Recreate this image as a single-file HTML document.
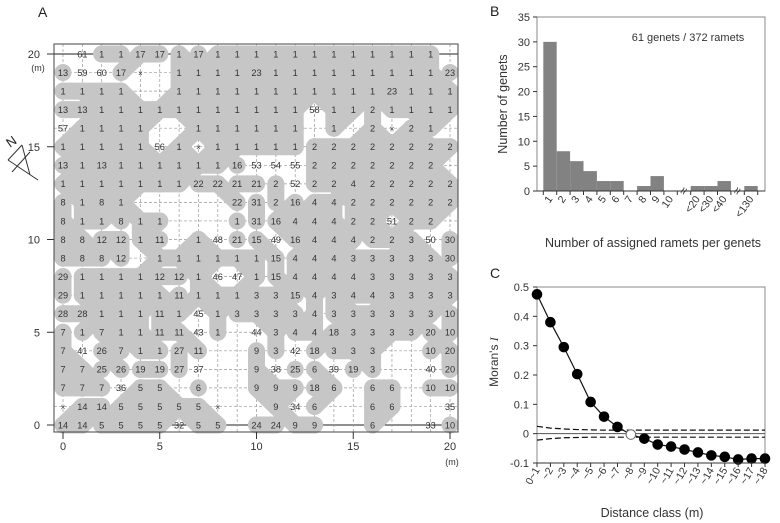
<!DOCTYPE html>
<html><head><meta charset="utf-8"><style>
body{margin:0;background:#fff;}
svg{display:block;font-family:"Liberation Sans",sans-serif;}
</style></head><body>
<svg id="fig" width="780" height="523" viewBox="0 0 780 523">
<g id="panelA"></g>
<g id="panelB"></g>
<g id="panelC"></g>
</svg>
<script>
// ---------- Panel A data ----------
const mapRows = [
",61,1,1,17,17,1,17,1,1,1,1,1,1,1,1,1,1,1,1,",
"13,59,60,17,x,,1,1,1,1,23,1,1,1,1,1,1,1,1,1,23",
"1,1,1,1,,,1,1,1,1,1,1,1,1,1,1,1,23,1,1,1",
"13,13,1,1,1,1,1,1,1,1,1,1,1,58,1,1,2,1,1,1,1",
"57,1,1,1,1,,,1,1,1,1,1,1,,1,,2,x,2,1,",
"1,1,1,1,1,56,1,x,1,1,1,1,1,2,2,2,2,2,2,2,2",
"13,1,13,1,1,1,1,1,1,16,53,54,55,2,2,2,2,2,2,2,",
"1,1,1,1,1,1,1,22,22,21,21,2,52,2,2,4,2,2,2,2,2",
"8,1,8,1,,,,,,22,31,2,16,4,4,2,2,2,2,2,2",
"8,1,1,8,1,1,,,,1,31,16,4,4,4,2,2,51,2,2,",
"8,8,12,12,1,11,,1,48,21,15,49,16,4,4,4,2,2,3,50,30",
"8,8,8,12,,1,1,1,1,1,1,15,4,4,4,3,3,3,3,3,30",
"29,1,1,1,1,12,12,1,46,47,1,15,4,4,4,4,3,3,3,3,3",
"29,1,1,1,1,1,11,1,1,1,3,3,15,4,3,4,4,3,3,3,3",
"28,28,1,1,1,11,1,45,1,3,3,3,3,4,3,3,3,3,3,3,10",
"7,1,7,1,1,11,11,43,1,,44,3,4,4,18,3,3,3,3,20,10",
"7,41,26,7,1,1,27,11,,,9,3,42,18,3,3,3,,,10,20",
"7,7,25,26,19,19,27,37,,,9,38,25,6,39,19,3,,,40,20",
"7,7,7,36,5,5,,6,,,9,9,9,18,6,,6,6,,10,10",
"x,14,14,5,5,5,5,5,x,,,9,34,6,,,6,6,,,35",
"14,14,5,5,5,5,32,5,5,,24,24,9,9,,,6,,,33,10"
];
const axisTicksA = [0,5,10,15,20];

// ---------- Panel B data ----------
const histCats = ["1","2","3","4","5","6","7","8","9","10","<20","<30","<40","<130"];
const histSlots = [0,1,2,3,4,5,6,7,8,9,11,12,13,15];
const histVals = [30,8,6,4,2,2,0,1,3,0,1,1,2,1];
const histYTicks = [0,5,10,15,20,25,30,35];

// ---------- Panel C data ----------
const distCats = ["0~1","~2","~3","~4","~5","~6","~7","~8","~9","~10","~11","~12","~13","~14","~15","~16","~17","~18"];
const moranVals = [0.475,0.38,0.295,0.203,0.108,0.058,0.023,-0.003,-0.017,-0.037,-0.044,-0.054,-0.064,-0.074,-0.079,-0.088,-0.085,-0.085];
const moranSig = [1,1,1,1,1,1,1,0,1,1,1,1,1,1,1,1,1,1];
const envUpper = [0.025,0.019,0.016,0.014,0.013,0.012,0.012,0.012,0.012,0.012,0.012,0.012,0.012,0.012,0.012,0.012,0.012,0.012];
const envLower = [-0.022,-0.017,-0.014,-0.013,-0.012,-0.012,-0.012,-0.012,-0.012,-0.012,-0.012,-0.012,-0.012,-0.012,-0.012,-0.012,-0.012,-0.012];
const moranYTicks = [0.5,0.4,0.3,0.2,0.1,0,-0.1];

const NS="http://www.w3.org/2000/svg";
function mk(parent,tag,attrs,text){const e=document.createElementNS(NS,tag);for(const k in attrs)e.setAttribute(k,attrs[k]);if(text!==undefined)e.textContent=text;parent.appendChild(e);return e;}

// ===== Panel A =====
(function(){
const g=document.getElementById('panelA');
const X=v=>63+v*19.35, Y=v=>425-v*18.55;
let t=mk(g,'text',{x:38,y:17,'font-size':14,fill:'#222'},'A');


// grid
for(let i=0;i<=20;i++){
  let l=mk(g,'line',{x1:X(i),x2:X(i),y1:44,y2:432,stroke:'#999','stroke-width':0.7,'stroke-dasharray':'3,2'});
  
  
  let s=(i===0||i===20);
  let h=mk(g,'line',{x1:54,x2:458,y1:Y(i),y2:Y(i),stroke:s?'#222':'#999','stroke-width':s?1:0.7,'stroke-dasharray':s?'none':'3,2'});
  
  
}
const grid=mapRows.map(r=>r.split(','));
const counts={};
grid.forEach(r=>r.forEach(c=>{if(c&&c!=='x')counts[c]=(counts[c]||0)+1;}));
const blob=mk(g,'g',{stroke:'#c6c6c6','stroke-width':17,'stroke-linecap':'round',fill:'#c6c6c6'});


const get=(col,yv)=>{if(col<0||col>20||yv<0||yv>20)return '';return grid[20-yv][col]||'';};
for(let yv=0;yv<=20;yv++)for(let c=0;c<=20;c++){
  const v=get(c,yv); if(!v||v==='x')continue;
  if(counts[v]>1){let ci=mk(blob,'circle',{cx:X(c),cy:Y(yv),r:8.5,stroke:'none'});
    
    }
  [[1,0],[0,1],[1,1],[1,-1]].forEach(([dx,dy])=>{
    if(get(c+dx,yv+dy)===v){let l=mk(blob,'line',{x1:X(c),y1:Y(yv),x2:X(c+dx),y2:Y(yv+dy)});
      
      }
  });
}
for(let yv=0;yv<=20;yv++)for(let c=0;c<=20;c++){
  const v=get(c,yv); if(!v)continue;
  let tx=mk(g,'text',{x:X(c),y:Y(yv)+3.3,'font-size':v==='x'?8:9.2,'text-anchor':'middle',fill:'#333'},v==='x'?'×':v);
  
  
}
let fr=mk(g,'rect',{x:54,y:44,width:404,height:388,fill:'none',stroke:'#444','stroke-width':1});


axisTicksA.forEach(v=>{
  let a=mk(g,'line',{x1:X(v),x2:X(v),y1:432,y2:439,stroke:'#333'});
  
  
  let b=mk(g,'text',{x:X(v),y:450,'font-size':11,'text-anchor':'middle',fill:'#333'},String(v));
  
  
  let c=mk(g,'line',{x1:47,x2:54,y1:Y(v),y2:Y(v),stroke:'#333'});
  
  
  let d=mk(g,'text',{x:40,y:Y(v)+4,'font-size':11,'text-anchor':'end',fill:'#333'},String(v));
  
  
});
let m1=mk(g,'text',{x:38,y:71,'font-size':9,'text-anchor':'middle',fill:'#333'},'(m)');


let m2=mk(g,'text',{x:452,y:465,'font-size':9,'text-anchor':'middle',fill:'#333'},'(m)');


// north arrow
const na=mk(g,'g',{stroke:'#333','stroke-width':1,fill:'none'});


mk(na,'line',{x1:8,y1:160,x2:38,y2:180});
mk(na,'line',{x1:8,y1:160,x2:22,y2:145});
mk(na,'line',{x1:22,y1:145,x2:30,y2:175});
mk(na,'line',{x1:12,y1:172,x2:30,y2:152});
let nt=mk(g,'text',{x:10,y:148,'font-size':13,fill:'#222',transform:'rotate(-35 10 148)'},'N');


})();

// ===== Panel B =====
(function(){
const g=document.getElementById('panelB');
const L=537,R=765,T=17,B=191;
const Y=v=>B-(v/35)*(B-T);
const SX=i=>550+i*13.4;
const bw=13.4;
let t=mk(g,'text',{x:490,y:16,'font-size':14,fill:'#222'},'B');


histVals.forEach((v,i)=>{
  const x=SX(histSlots[i]);
  if(v>0){let r=mk(g,'rect',{x:x-bw/2,y:Y(v),width:bw,height:B-Y(v),fill:'#828282'});
  
  }
  let lb=mk(g,'text',{x:x+3,y:199,'font-size':10.5,'text-anchor':'end',fill:'#333',transform:`rotate(-55 ${x+3} 199)`},histCats[i]);
  
  
});
let fr=mk(g,'rect',{x:L,y:T,width:R-L,height:B-T,fill:'none',stroke:'#888'});


let ax=mk(g,'line',{x1:L,x2:R,y1:B,y2:B,stroke:'#333'});


for(let i=0;i<=16;i++){const x=SX(i)-bw/2;
  let tk=mk(g,'line',{x1:x,x2:x,y1:B,y2:B+4,stroke:'#333'});
  
  }
[10,14].forEach(s=>{const x=SX(s);
  let br=mk(g,'text',{x:x,y:B+4,'font-size':13,'text-anchor':'middle',fill:'#333'},'≈');
  
  
  br.setAttribute('transform',`rotate(-60 ${x} ${B})`);});
histYTicks.forEach(v=>{
  let tk=mk(g,'line',{x1:L-4,x2:L,y1:Y(v),y2:Y(v),stroke:'#333'});
  
  
  let lb=mk(g,'text',{x:L-7,y:Y(v)+4,'font-size':11,'text-anchor':'end',fill:'#333'},String(v));
  
  
});
let an=mk(g,'text',{x:688,y:41,'font-size':11,'text-anchor':'middle',fill:'#333'},'61 genets / 372 ramets');


let yt=mk(g,'text',{x:507,y:104,'font-size':12.5,'text-anchor':'middle',fill:'#333',transform:'rotate(-90 507 104)'},'Number of genets');


let xt=mk(g,'text',{x:653,y:247,'font-size':12.5,'text-anchor':'middle',fill:'#333'},'Number of assigned ramets per genets');


})();

// ===== Panel C =====
(function(){
const g=document.getElementById('panelC');
const L=537,R=765,T=287,B=463;
const Y=v=>B-(v+0.1)/0.6*(B-T);
const X=i=>L+i*(R-L)/(distCats.length-1);
let t=mk(g,'text',{x:490,y:278,'font-size':14,fill:'#222'},'C');


let fr=mk(g,'rect',{x:L,y:T,width:R-L,height:B-T,fill:'none',stroke:'#888'});


let zl=mk(g,'line',{x1:L,x2:R,y1:Y(0),y2:Y(0),stroke:'#555'});


const pu=envUpper.map((v,i)=>X(i)+','+Y(v)).join(' ');
const pl=envLower.map((v,i)=>X(i)+','+Y(v)).join(' ');
let eu=mk(g,'polyline',{points:pu,fill:'none',stroke:'#111','stroke-width':1.2,'stroke-dasharray':'6,3'});


let el=mk(g,'polyline',{points:pl,fill:'none',stroke:'#111','stroke-width':1.2,'stroke-dasharray':'6,3'});


let ln=mk(g,'polyline',{points:moranVals.map((v,i)=>X(i)+','+Y(v)).join(' '),fill:'none',stroke:'#111','stroke-width':1.2});


moranVals.forEach((v,i)=>{
  let c=mk(g,'circle',{cx:X(i),cy:Y(v),r:4.8,fill:moranSig[i]?'#000':'#fff',stroke:moranSig[i]?'#000':'#666','stroke-width':1});
  
  
  let lb=mk(g,'text',{x:X(i)+3,y:B+7,'font-size':10.5,'text-anchor':'end',fill:'#333',transform:`rotate(-60 ${X(i)+3} ${B+7})`},distCats[i]);
  
  
  let tk=mk(g,'line',{x1:X(i),x2:X(i),y1:B,y2:B+4,stroke:'#333'});
  
  
});
let ax=mk(g,'line',{x1:L,x2:R,y1:B,y2:B,stroke:'#333'});


moranYTicks.forEach(v=>{
  let tk=mk(g,'line',{x1:L-4,x2:L,y1:Y(v),y2:Y(v),stroke:'#333'});
  
  
  let lb=mk(g,'text',{x:L-8,y:Y(v)+4,'font-size':11,'text-anchor':'end',fill:'#333'},v===0?'0':String(v));
  
  
});
let yt=mk(g,'text',{x:498,y:362,'font-size':12,'text-anchor':'middle',fill:'#333',transform:'rotate(-90 498 362)'});


mk(yt,'tspan',{},"Moran's ");
mk(yt,'tspan',{'font-style':'italic','font-family':'Liberation Serif, serif'},'I');
let xt=mk(g,'text',{x:652,y:517,'font-size':12.5,'text-anchor':'middle',fill:'#333'},'Distance class (m)');


})();
</script>
</body></html>
